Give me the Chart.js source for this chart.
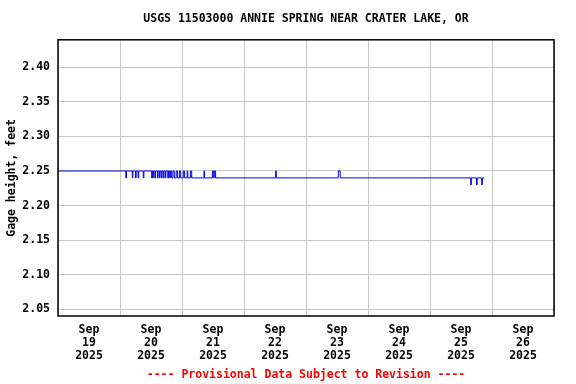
<!DOCTYPE html>
<html>
<head>
<meta charset="utf-8">
<script src="https://cdn.jsdelivr.net/npm/chart.js@4.4.1/dist/chart.umd.min.js"></script>
<style>
  html, body { margin: 0; padding: 0; background: #fff; }
  #wrap { width: 576px; height: 384px; }
</style>
</head>
<body>
<div id="wrap"><canvas id="Gage" width="576" height="384"></canvas></div>
<script>
// hours since Sep 19 2025 00:00 where the reading changes, and the reading (ft)
var hours = [0, 26.25, 26.5, 28.75, 29, 30, 30.25, 31, 31.25, 33, 33.25,
    36.25, 36.5, 36.75, 37, 37.5, 37.75, 38.5, 38.75, 39.25, 39.5, 40, 40.25,
    40.75, 41, 41.5, 41.75, 42.5, 42.75, 43.25, 43.5, 44, 44.5, 45, 45.75,
    46.25, 47, 47.5, 48.5, 49, 50, 50.25, 51.25, 51.75, 56.5, 56.75, 59.75,
    60.25, 60.5, 61, 84.25, 84.5, 108.5, 109.25, 159.75, 160, 162, 162.25,
    164, 164.25, 165]
var feet = [2.25, 2.24, 2.25, 2.24, 2.25, 2.24, 2.25, 2.24, 2.25, 2.24, 2.25,
    2.24, 2.25, 2.24, 2.25, 2.24, 2.25, 2.24, 2.25, 2.24, 2.25, 2.24, 2.25,
    2.24, 2.25, 2.24, 2.25, 2.24, 2.25, 2.24, 2.25, 2.24, 2.25, 2.24, 2.25,
    2.24, 2.25, 2.24, 2.25, 2.24, 2.25, 2.24, 2.25, 2.24, 2.25, 2.24, 2.25,
    2.24, 2.25, 2.24, 2.25, 2.24, 2.25, 2.24, 2.23, 2.24, 2.23, 2.24,
    2.23, 2.24, 2.24]

var dayNames = ['19', '20', '21', '22', '23', '24', '25', '26']
var yTicks = [2.05, 2.10, 2.15, 2.20, 2.25, 2.30, 2.35, 2.40]

var font = { family: '"DejaVu Sans Mono", "Liberation Mono", monospace', size: 11.5, weight: 'bold' }

var points = []
for (var i = 0; i < hours.length; i++) {
    points.push({ x: hours[i], y: feet[i] })
}

// black frame round the plot
var framePlugin = {
    id: 'frame',
    afterDraw: function (chart) {
        var a = chart.chartArea
        var ctx = chart.ctx
        ctx.save()
        ctx.strokeStyle = '#000'
        ctx.lineWidth = 1.5
        ctx.strokeRect(a.left, a.top, a.right - a.left, a.bottom - a.top)
        ctx.restore()
    }
}

var ctx = document.getElementById('Gage').getContext('2d')
var myChart = new Chart(ctx, {
    type: 'line',
    data: {
        datasets: [{
            data: points,
            borderColor: '#0000ee',
            borderWidth: 1,
            stepped: 'before',
            pointRadius: 0,
            fill: false
        }]
    },
    options: {
        responsive: false,
        animation: false,
        devicePixelRatio: 1,
        layout: { padding: { left: 0, right: 22, top: 0, bottom: 0 } },
        plugins: {
            legend: { display: false },
            tooltip: { enabled: false },
            title: {
                display: true,
                text: 'USGS 11503000 ANNIE SPRING NEAR CRATER LAKE, OR',
                color: '#000',
                font: font,
                fullSize: false,
                padding: { top: 12, bottom: 14 }
            },
            subtitle: {
                display: true,
                position: 'bottom',
                text: '---- Provisional Data Subject to Revision ----',
                color: '#ff0000',
                font: font,
                fullSize: false,
                padding: { top: 2, bottom: 2.2 }
            }
        },
        scales: {
            x: {
                type: 'linear',
                min: 0,
                max: 192,
                afterBuildTicks: function (scale) {
                    var t = []
                    for (var h = 0; h <= 192; h += 12) t.push({ value: h })
                    scale.ticks = t
                },
                afterFit: function (scale) { scale.height = 50 },
                ticks: {
                    autoSkip: false,
                    maxRotation: 0,
                    padding: 8,
                    color: '#000',
                    font: { family: font.family, size: 11.5, weight: 'bold', lineHeight: 1.1 },
                    callback: function (v) {
                        if (v % 24 == 12) return ['Sep', dayNames[Math.floor(v / 24)], '2025']
                        return ''
                    }
                },
                grid: {
                    drawTicks: false,
                    lineWidth: 1,
                    color: function (c) {
                        return c.tick && c.tick.value % 24 == 0 ? '#c8c8c8' : 'rgba(0,0,0,0)'
                    }
                },
                border: { display: false }
            },
            y: {
                min: 2.04,
                max: 2.44,
                afterBuildTicks: function (scale) {
                    scale.ticks = yTicks.map(function (v) { return { value: v } })
                },
                afterFit: function (scale) { scale.width = 58 },
                ticks: {
                    padding: 8,
                    color: '#000',
                    font: font,
                    callback: function (v) { return v.toFixed(2) }
                },
                grid: { drawTicks: false, color: '#c8c8c8', lineWidth: 1 },
                border: { display: false },
                title: {
                    display: true,
                    text: 'Gage height, feet',
                    color: '#000',
                    font: font,
                    padding: { top: 5, bottom: 0 }
                }
            }
        }
    },
    plugins: [framePlugin]
})
</script>
</body>
</html>
